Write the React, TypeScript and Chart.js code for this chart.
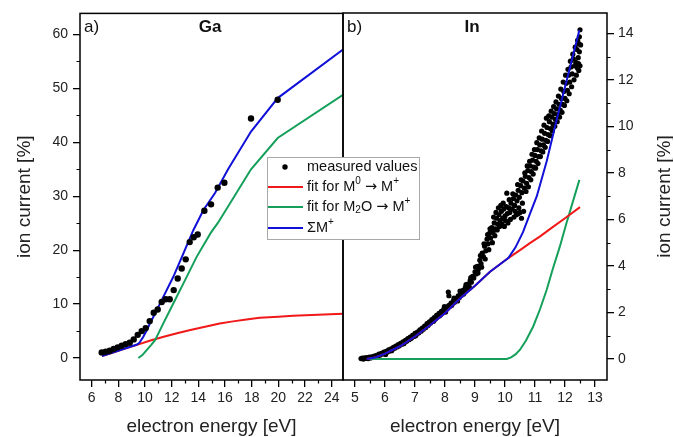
import React, { useEffect, useRef } from 'react';
import { Chart, registerables } from 'chart.js';

Chart.register(...registerables);

const W = 673;
const H = 437;
const FONT = '"Liberation Sans", Arial, Helvetica, sans-serif';
const ARROW_FONT = '"DejaVu Sans", sans-serif';

// ---------- Panel a) Ga ----------
const gaEnergy = [6.75, 7.05, 7.35, 7.65, 7.95, 8.25, 8.55, 8.85, 9.15, 9.45, 9.75, 10.05, 10.35, 10.65, 10.95, 11.25, 11.55, 11.85, 12.15, 12.45, 12.75, 13.05, 13.35, 13.65, 13.95, 14.45, 14.95, 15.45, 15.95, 17.95, 19.95];
const gaMeasured = [1.05, 1.17, 1.36, 1.67, 1.98, 2.28, 2.59, 2.84, 3.46, 4.3, 5.0, 5.55, 6.85, 8.4, 9.0, 10.4, 10.9, 10.9, 12.6, 14.75, 16.6, 18.3, 21.5, 22.4, 22.9, 27.3, 28.5, 31.6, 32.5, 44.4, 47.9];

const gaM0X = [6.77, 7.5, 8.5, 9.4, 10.4, 11.4, 12.4, 13.4, 14.5, 15.6, 16.6, 17.6, 18.6, 20.0, 21.1, 22.5, 24.85];
const gaM0Y = [0.37, 0.95, 1.75, 2.45, 3.25, 3.95, 4.6, 5.2, 5.8, 6.4, 6.8, 7.15, 7.45, 7.65, 7.84, 8.0, 8.2];

const gaM2OX = [9.5, 9.8, 10.12, 10.45, 10.75, 11.05, 11.37, 12.12, 12.87, 13.87, 14.95, 15.45, 15.95, 17.95, 19.95, 24.85];
const gaM2OY = [0, 0.55, 1.48, 2.4, 3.33, 4.8, 6.42, 10.1, 13.8, 18.76, 23.3, 25.0, 27.0, 35.0, 40.8, 48.8];

const gaSumX = [6.77, 9.4, 9.6, 9.87, 10.12, 10.37, 10.88, 11.37, 12.12, 12.87, 13.62, 14.37, 15.25, 16.25, 17.95, 19.95, 24.85];
const gaSumY = [0.37, 2.5, 2.9, 3.95, 5.1, 6.42, 8.89, 11.35, 15.06, 19.38, 23.7, 27.4, 30.6, 35.1, 42.0, 48.2, 57.2];

const gaXTicks = [6, 8, 10, 12, 14, 16, 18, 20, 22, 24];
const gaXMinor = [7, 9, 11, 13, 15, 17, 19, 21, 23];
const gaYTicks = [0, 10, 20, 30, 40, 50, 60];
const gaYMinor = [5, 15, 25, 35, 45, 55];

// ---------- Panel b) In ----------
const inEnergy = [
  5.20, 5.24, 5.28, 5.32, 5.36, 5.40, 5.44, 5.48, 5.52, 5.56, 5.60, 5.64, 5.68, 5.72, 5.76, 5.80, 5.84, 5.88, 5.92, 5.96,
  6.00, 6.04, 6.08, 6.12, 6.16, 6.20, 6.24, 6.28, 6.32, 6.36, 6.40, 6.44, 6.48, 6.52, 6.56, 6.60, 6.64, 6.68, 6.72, 6.76,
  6.80, 6.84, 6.88, 6.92, 6.96, 7.00, 7.04, 7.08, 7.12, 7.16, 7.20, 7.24, 7.28, 7.32, 7.36, 7.40, 7.44, 7.48, 7.52, 7.56,
  7.60, 7.64, 7.68, 7.72, 7.76, 7.80, 7.84, 7.88, 7.92, 7.96, 8.00, 8.04, 8.08, 8.11, 8.12, 8.13, 8.16, 8.20, 8.24, 8.28,
  8.32, 8.36, 8.40, 8.44, 8.48, 8.52, 8.56, 8.60, 8.64, 8.68, 8.72, 8.76, 8.80, 8.84, 8.88, 8.92, 8.96, 9.00, 9.04, 9.08,
  9.12, 9.16, 9.20, 9.24, 9.28, 9.32, 9.36, 9.40, 9.44, 9.48, 9.52, 9.56, 9.60, 9.64, 9.68, 9.72, 9.76, 9.80, 9.84, 9.88,
  9.92, 9.96, 9.98, 10.00, 10.04, 10.06, 10.08, 10.10, 10.12, 10.16, 10.20, 10.24, 10.28, 10.30, 10.32, 10.36, 10.38, 10.40, 10.44, 10.45,
  10.48, 10.50, 10.52, 10.55, 10.56, 10.60, 10.62, 10.64, 10.68, 10.72, 10.76, 10.80, 10.84, 10.88, 10.92, 10.96, 11.00, 11.04, 11.08, 11.12,
  11.16, 11.20, 11.24, 11.28, 11.32, 11.36, 11.40, 11.44, 11.48, 11.52, 11.56, 11.60, 11.64, 11.68, 11.72, 11.76, 11.80, 11.84, 11.88, 11.92,
  11.96, 12.00, 12.04, 12.08, 12.12, 12.16, 12.20, 12.24, 12.28, 12.32, 12.36, 12.40, 12.42, 12.44, 12.46, 12.46, 12.48, 12.50,
  6.02, 6.22, 6.42, 6.62, 6.82, 7.02, 7.22, 7.42, 7.62, 7.82, 8.02, 8.22, 8.42, 8.62, 8.82, 8.86, 8.70, 8.50, 8.30, 7.98,
  9.02, 9.10, 9.18, 9.22, 9.30, 9.34, 9.42, 9.46, 9.50, 9.58, 9.62, 9.66, 9.70, 9.74, 9.78, 9.82, 9.86, 9.90, 9.94, 10.02,
  10.14, 10.18, 10.26, 10.34, 10.42, 10.46, 10.54, 10.58, 10.66, 10.70, 10.74, 10.78, 10.82, 10.86, 10.90, 10.94, 10.98, 11.02, 11.06, 11.10,
  11.14, 11.18, 11.22, 11.26, 11.30, 11.34, 11.38, 11.42, 11.46, 11.50, 11.54, 11.58, 11.62, 11.66, 11.70, 11.74, 11.78, 11.82, 11.86, 11.90,
  11.94, 11.98, 12.02, 12.06, 12.10, 12.14, 12.18, 12.22, 12.26, 12.30, 12.34, 12.38, 12.42, 12.45, 12.48, 12.50, 12.52
];
const inMeasured = [
  0.02, 0.04, 0.00, 0.05, 0.03, 0.06, 0.02, 0.08, 0.05, 0.10, 0.07, 0.13, 0.10, 0.16, 0.13, 0.21, 0.17, 0.24, 0.22, 0.30,
  0.26, 0.33, 0.30, 0.40, 0.35, 0.44, 0.40, 0.50, 0.46, 0.56, 0.52, 0.62, 0.57, 0.68, 0.64, 0.74, 0.69, 0.80, 0.76, 0.88,
  0.83, 0.94, 0.89, 1.02, 0.97, 1.10, 1.04, 1.16, 1.12, 1.25, 1.20, 1.33, 1.28, 1.42, 1.36, 1.52, 1.45, 1.60, 1.55, 1.70,
  1.64, 1.78, 1.72, 1.88, 1.82, 1.96, 1.90, 2.05, 2.00, 2.15, 2.08, 2.22, 2.18, 2.88, 2.30, 2.72, 2.27, 2.40, 2.35, 2.50,
  2.44, 2.60, 2.55, 2.72, 2.64, 2.82, 2.75, 2.95, 2.88, 3.08, 3.00, 3.22, 3.15, 3.38, 3.30, 3.55, 3.48, 3.75, 3.66, 3.98,
  3.88, 4.25, 4.10, 4.55, 4.40, 4.85, 4.65, 5.15, 4.95, 5.40, 5.20, 5.65, 5.45, 5.85, 5.60, 6.05, 5.80, 6.20, 5.95, 6.35,
  6.05, 6.45, 5.70, 6.15, 6.55, 7.13, 6.25, 5.85, 6.50, 6.30, 6.70, 6.45, 6.90, 6.10, 6.60, 7.05, 6.20, 6.80, 7.25, 6.25,
  6.95, 6.30, 7.45, 6.05, 7.15, 7.65, 6.35, 7.35, 7.85, 7.55, 8.10, 7.80, 8.30, 8.05, 8.55, 8.25, 8.75, 8.50, 9.00, 8.70,
  9.20, 8.95, 9.45, 9.20, 9.70, 9.40, 9.95, 9.65, 10.20, 9.90, 10.40, 10.10, 10.55, 10.30, 10.75, 10.50, 10.95, 10.70, 11.20, 10.95,
  11.50, 11.20, 11.85, 11.55, 12.20, 11.90, 12.55, 12.25, 12.90, 12.60, 12.75, 13.30, 12.50, 12.95, 13.55, 12.40, 13.85, 14.15,
  0.20, 0.36, 0.55, 0.66, 0.86, 1.00, 1.24, 1.44, 1.62, 1.86, 2.02, 2.30, 2.50, 2.80, 3.05, 3.50, 3.20, 2.92, 2.62, 2.25,
  3.95, 3.70, 4.45, 3.95, 4.95, 4.30, 5.35, 4.70, 5.60, 5.00, 6.10, 5.30, 6.30, 5.55, 6.50, 5.70, 6.60, 5.80, 6.70, 5.95,
  6.85, 6.00, 7.10, 6.35, 7.50, 6.50, 7.70, 6.70, 8.00, 7.20, 8.30, 7.40, 8.50, 7.70, 8.80, 7.95, 9.00, 8.20, 9.30, 8.40,
  9.50, 8.70, 9.80, 8.90, 10.05, 9.10, 10.35, 9.35, 10.45, 9.60, 10.65, 9.80, 10.85, 10.00, 11.05, 10.20, 11.30, 10.40, 11.60, 10.60,
  11.90, 10.90, 12.20, 11.10, 12.45, 11.40, 12.80, 11.70, 13.10, 12.00, 13.40, 12.20, 13.70, 12.70, 13.20, 12.60, 13.50
];

const inM0X = [5.39, 5.7, 6.0, 6.5, 7.0, 7.5, 8.0, 8.5, 9.0, 9.5, 10.11, 10.5, 10.83, 11.17, 11.6, 12.0, 12.5];
const inM0Y = [0, 0.08, 0.23, 0.55, 0.97, 1.45, 1.97, 2.6, 3.15, 3.75, 4.34, 4.68, 4.98, 5.27, 5.68, 6.05, 6.53];

const inM2OX = [5.4, 10.06, 10.2, 10.35, 10.5, 10.7, 10.94, 11.17, 11.39, 11.6, 11.83, 12.05, 12.28, 12.48];
const inM2OY = [0, 0, 0.07, 0.2, 0.4, 0.8, 1.4, 2.15, 2.98, 3.9, 4.84, 5.85, 6.84, 7.7];

const inSumX = [5.39, 5.7, 6.0, 6.5, 7.0, 7.5, 8.0, 8.5, 9.0, 9.5, 10.11, 10.35, 10.6, 10.85, 11.06, 11.39, 11.72, 12.1, 12.48];
const inSumY = [0, 0.08, 0.23, 0.55, 0.97, 1.45, 1.97, 2.6, 3.15, 3.75, 4.34, 4.8, 5.45, 6.3, 7.0, 8.5, 10.27, 12.2, 14.14];

const inXTicks = [5, 6, 7, 8, 9, 10, 11, 12, 13];
const inXMinor = [5.5, 6.5, 7.5, 8.5, 9.5, 10.5, 11.5, 12.5];
const inYTicks = [0, 2, 4, 6, 8, 10, 12, 14];
const inYMinor = [1, 3, 5, 7, 9, 11, 13];

// ---------- texts ----------
const xTitle = 'electron energy [eV]';
const yTitle = 'ion current [%]';
const legendLabels = ['measured values', 'fit for M0 → M+', 'fit for M2O → M+', 'ΣM+'];

const RED = '#f01818';
const GREEN = '#14a05a';
const BLUE = '#1010d8';
const TICK_COLOR = '#222';

const pts = (xs: number[], ys: number[]) => xs.map((x, i) => ({ x, y: ys[i] }));

type Part = { t: string; s?: 'sup' | 'sub' | 'arrow' };

function richText(ctx: CanvasRenderingContext2D, parts: Part[], x: number, y: number, size: number) {
  let cx = x;
  for (const p of parts) {
    let dy = 0;
    if (p.s === 'sup' || p.s === 'sub') {
      ctx.font = `${Math.round(size * 0.68)}px ${FONT}`;
      dy = p.s === 'sup' ? -size * 0.38 : size * 0.25;
    } else if (p.s === 'arrow') {
      ctx.font = `${size}px ${ARROW_FONT}`;
    } else {
      ctx.font = `${size}px ${FONT}`;
    }
    ctx.fillText(p.t, cx, y + dy);
    cx += ctx.measureText(p.t).width;
  }
  return cx;
}

const framePlugin = {
  id: 'frame',
  afterDraw(chart: any, _args: any, opts: any) {
    const { ctx, chartArea: a } = chart;
    const xs = chart.scales.x;
    const ys = chart.scales.y;
    ctx.save();
    ctx.strokeStyle = '#000';
    ctx.lineWidth = 1.5;
    ctx.strokeRect(a.left, a.top, a.right - a.left, a.bottom - a.top);
    // minor ticks
    ctx.lineWidth = 1.2;
    ctx.beginPath();
    for (const v of opts.xMinor) {
      const p = Math.round(xs.getPixelForValue(v)) + 0.5;
      ctx.moveTo(p, a.bottom);
      ctx.lineTo(p, a.bottom + 3.5);
    }
    for (const v of opts.yMinor) {
      const p = Math.round(ys.getPixelForValue(v)) + 0.5;
      if (opts.side === 'right') {
        ctx.moveTo(a.right, p);
        ctx.lineTo(a.right + 3.5, p);
      } else {
        ctx.moveTo(a.left, p);
        ctx.lineTo(a.left - 3.5, p);
      }
    }
    ctx.stroke();

    // panel labels
    ctx.fillStyle = '#111';
    ctx.textBaseline = 'alphabetic';
    ctx.textAlign = 'left';
    ctx.font = `17px ${FONT}`;
    ctx.fillText(opts.tag, a.left + 4, 32);
    ctx.textAlign = 'center';
    ctx.font = `bold 17px ${FONT}`;
    ctx.fillText(opts.element, opts.elementX, 32);

    // axis titles
    ctx.fillStyle = '#222';
    ctx.font = `19px ${FONT}`;
    ctx.textAlign = 'center';
    ctx.fillText(xTitle, (a.left + a.right) / 2, 432);
    ctx.save();
    ctx.translate(opts.yTitleX, (a.top + a.bottom) / 2);
    ctx.rotate(-Math.PI / 2);
    ctx.fillText(yTitle, 0, 0);
    ctx.restore();

    if (opts.legend) {
      const lx = 267, ly = 157, lw = 152, lh = 82;
      ctx.fillStyle = '#fff';
      ctx.fillRect(lx, ly, lw, lh);
      ctx.strokeStyle = '#a8a8a8';
      ctx.lineWidth = 1;
      ctx.strokeRect(lx + 0.5, ly + 0.5, lw, lh);
      const rows = [167, 187, 207, 228];
      const colors = ['#000', RED, GREEN, BLUE];
      const texts: Part[][] = [
        [{ t: legendLabels[0] }],
        [{ t: 'fit for M' }, { t: '0', s: 'sup' }, { t: ' ' }, { t: '→', s: 'arrow' }, { t: ' M' }, { t: '+', s: 'sup' }],
        [{ t: 'fit for M' }, { t: '2', s: 'sub' }, { t: 'O ' }, { t: '→', s: 'arrow' }, { t: ' M' }, { t: '+', s: 'sup' }],
        [{ t: 'ΣM' }, { t: '+', s: 'sup' }],
      ];
      rows.forEach((ry, i) => {
        if (i === 0) {
          ctx.fillStyle = '#000';
          ctx.beginPath();
          ctx.arc(285, ry, 2.7, 0, Math.PI * 2);
          ctx.fill();
        } else {
          ctx.strokeStyle = colors[i];
          ctx.lineWidth = 2;
          ctx.beginPath();
          ctx.moveTo(268, ry);
          ctx.lineTo(303, ry);
          ctx.stroke();
        }
        ctx.fillStyle = '#111';
        ctx.textAlign = 'left';
        ctx.textBaseline = 'middle';
        richText(ctx, texts[i], 307, ry, 14.5);
      });
    }
    ctx.restore();
  },
};

function makeConfig(p: any): any {
  const lineDs = (label: string, xs: number[], ys: number[], color: string, order: number) => ({
    type: 'line',
    label,
    data: pts(xs, ys),
    borderColor: color,
    borderWidth: 2,
    pointRadius: 0,
    tension: 0,
    fill: false,
    order,
  });
  return {
    type: 'line',
    data: {
      datasets: [
        {
          type: 'scatter',
          label: legendLabels[0],
          data: pts(p.mx, p.my),
          showLine: false,
          pointRadius: p.dotR,
          pointBackgroundColor: '#000',
          pointBorderWidth: 0,
          borderColor: '#000',
          order: p.dotOrder,
        },
        lineDs(legendLabels[1], p.rx, p.ry, RED, p.redOrder),
        lineDs(legendLabels[2], p.gx, p.gy, GREEN, p.greenOrder),
        lineDs(legendLabels[3], p.bx, p.by, BLUE, p.blueOrder),
      ],
    },
    options: {
      responsive: false,
      animation: false,
      events: [],
      layout: { padding: p.padding },
      plugins: {
        legend: { display: false },
        tooltip: { enabled: false },
        title: { display: false },
        frame: p.frame,
      },
      scales: {
        x: {
          type: 'linear',
          min: p.xMin,
          max: p.xMax,
          afterFit: (s: any) => { s.height = H - 380; },
          afterBuildTicks: (s: any) => { s.ticks = p.xTicks.map((v: number) => ({ value: v })); },
          grid: { drawOnChartArea: false, drawTicks: true, tickLength: 7, color: '#000', lineWidth: 1.3 },
          border: { display: false },
          ticks: { color: TICK_COLOR, font: { family: FONT, size: 14 }, padding: 3, maxRotation: 0, autoSkip: false },
        },
        y: {
          type: 'linear',
          position: p.ySide,
          min: p.yMin,
          max: p.yMax,
          afterFit: (s: any) => { s.width = p.yWidth; },
          afterBuildTicks: (s: any) => { s.ticks = p.yTicks.map((v: number) => ({ value: v })); },
          grid: { drawOnChartArea: false, drawTicks: true, tickLength: 7, color: '#000', lineWidth: 1.3 },
          border: { display: false },
          ticks: { color: TICK_COLOR, font: { family: FONT, size: 14 }, padding: p.yPad, autoSkip: false },
        },
      },
    },
    plugins: [framePlugin],
  };
}

export default function App() {
  const leftRef = useRef<HTMLCanvasElement>(null);
  const rightRef = useRef<HTMLCanvasElement>(null);

  useEffect(() => {
    Chart.defaults.font.family = FONT;
    const left = new Chart(leftRef.current as HTMLCanvasElement, makeConfig({
      mx: gaEnergy, my: gaMeasured,
      rx: gaM0X, ry: gaM0Y, gx: gaM2OX, gy: gaM2OY, bx: gaSumX, by: gaSumY,
      dotR: 3.2, dotOrder: 0, blueOrder: 1, greenOrder: 2, redOrder: 3,
      padding: { left: 0, right: W - 343, top: 13, bottom: 0 },
      xMin: 5.12, xMax: 24.85, yMin: -4.07, yMax: 63.9,
      xTicks: gaXTicks, yTicks: gaYTicks, ySide: 'left', yWidth: 80, yPad: 5,
      frame: { xMinor: gaXMinor, yMinor: gaYMinor, side: 'left', tag: 'a)', element: 'Ga', elementX: 210, yTitleX: 30, legend: false },
    }));
    const right = new Chart(rightRef.current as HTMLCanvasElement, makeConfig({
      mx: inEnergy, my: inMeasured,
      rx: inM0X, ry: inM0Y, gx: inM2OX, gy: inM2OY, bx: inSumX, by: inSumY,
      dotR: 2.6, dotOrder: 3, blueOrder: 0, greenOrder: 2, redOrder: 1,
      padding: { left: 343, right: 0, top: 13, bottom: 0 },
      xMin: 4.6, xMax: 13.4, yMin: -0.9, yMax: 14.87,
      xTicks: inXTicks, yTicks: inYTicks, ySide: 'right', yWidth: W - 607, yPad: 4,
      frame: { xMinor: inXMinor, yMinor: inYMinor, side: 'right', tag: 'b)', element: 'In', elementX: 472, yTitleX: 670, legend: true },
    }));
    return () => {
      left.destroy();
      right.destroy();
    };
  }, []);

  const cs: React.CSSProperties = { position: 'absolute', left: 0, top: 0 };
  return (
    <div style={{ position: 'absolute', left: 0, top: 0, width: W, height: H, background: '#fff' }}>
      <canvas ref={leftRef} width={W} height={H} style={cs} />
      <canvas ref={rightRef} width={W} height={H} style={cs} />
    </div>
  );
}
